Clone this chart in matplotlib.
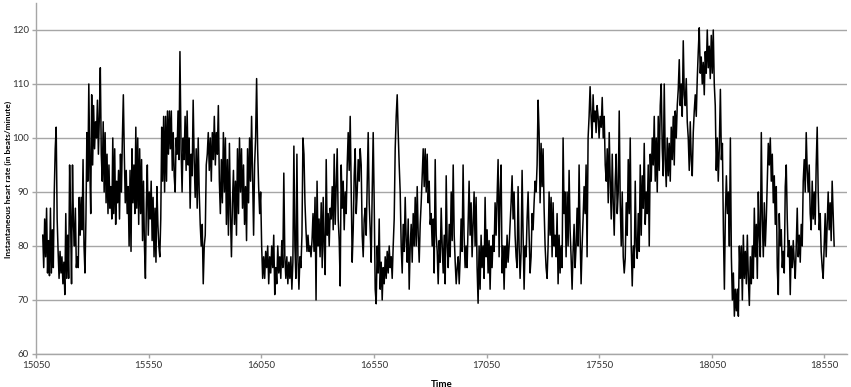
import numpy as np
import matplotlib.pyplot as plt

plt.rcParams['font.family'] = ['Lato', 'DejaVu Sans']

seg1_t = (15080, 15689)
seg1 = [82, 76, 85, 78, 87, 75, 81, 74.5, 87, 75, 83, 76, 90, 98, 102, 85, 79, 74, 79, 75,
        78, 73, 77, 71, 86, 74, 82, 74, 95, 85, 73, 95, 84, 80, 87, 76, 78, 76, 89, 82,
        89, 83, 96, 80, 75, 85, 101, 92, 110, 95, 86, 108, 95, 106, 98, 103, 100, 107, 97, 104,
        113, 97, 92, 103, 90, 101, 88, 97, 86, 95, 87, 91, 85, 100, 86, 98, 84, 92, 88, 94,
        85, 97, 90, 100, 108, 97, 88, 94, 86, 91, 80, 94, 79, 98, 88, 95, 86, 102, 87, 100,
        84, 98, 86, 96, 81, 92, 80, 74, 88, 95, 82, 90, 85, 92, 81, 89, 78, 87, 77, 91,
        84, 80, 78, 85, 102, 92, 104, 90, 104, 92, 105, 97, 105, 98, 105, 94, 101, 93, 90, 100,
        97, 105, 96, 116]

seg2_t = (15694, 16311)
seg2 = [98, 90, 100, 96, 104, 94, 105, 95, 100, 87, 97, 93, 107, 96, 89, 98, 87, 100, 90, 84,
        80, 84, 73, 80, 82, 95, 97, 101, 94, 100, 92, 101, 96, 104, 95, 101, 97, 106, 92, 86,
        96, 88, 101, 90, 100, 84, 96, 82, 99, 86, 78, 88, 94, 84, 92, 82, 98, 86, 100, 90,
        98, 87, 95, 84, 91, 81, 98, 88, 100, 92, 104, 93, 82, 95, 100, 111, 98, 91, 86, 90,
        80, 74, 78, 74, 79, 76, 80, 73, 78, 75, 80, 76, 82, 71, 76, 73, 80, 75, 78, 74,
        81, 76, 93.5, 78, 74, 78, 73, 77, 74, 78, 72, 77, 98.5, 80, 74, 97, 78, 72, 78, 76,
        82, 100, 97, 88, 83, 79, 82, 79, 80, 78, 81, 86, 79, 89, 70, 92, 80, 85, 78]

seg3_t = (16316, 16933)
seg3 = [88, 76, 89, 80, 74.7, 96, 82, 86, 80, 87, 85, 91, 83, 97, 84, 91, 98, 85, 81, 72.6,
        95, 87, 92, 83, 90, 86, 95, 101, 94, 104, 90, 77, 83, 93, 98, 86, 90, 96, 92, 98,
        95, 82, 78, 85, 87, 82, 91, 101, 88, 83, 77, 90, 101, 88, 72, 69.3, 80, 75, 85, 72,
        77, 70, 76, 73, 78, 74, 79, 75, 80, 76, 78, 74, 80, 85, 98, 104, 108, 101, 95, 90,
        80, 75, 84, 79, 89, 81, 77, 85, 72, 80, 84, 77, 86, 80, 89, 80, 91, 82, 77, 84,
        88, 93, 98, 91, 98, 90, 97, 88, 92, 84, 86, 80, 85, 75, 96, 82, 79, 73, 81, 77,
        87, 80, 75, 82, 73, 93, 80, 76, 84, 78, 90, 81, 95, 82, 77, 73, 76, 78, 73, 78]

seg4_t = (16937, 17554)
seg4 = [85, 79, 95, 82, 76, 80, 76, 84, 92, 82, 88, 78, 84, 90, 80, 89, 76, 69.4, 80, 72,
        82, 76, 80, 74, 89, 78, 83, 75, 81, 72, 80, 76, 82, 79, 88, 82, 89, 96, 78, 90,
        95, 75, 80, 72, 80, 76, 82, 77, 80, 84, 88, 93, 85, 90, 82, 78, 76, 91, 80, 74,
        79, 94, 82, 72, 80, 78, 85, 90, 82, 75, 78, 86, 83, 88, 92, 90, 95, 107, 101, 88,
        99, 91, 98, 87, 80, 76, 74, 80, 90, 82, 89, 78, 88, 80, 82, 78, 86, 73, 82, 75,
        80, 76, 100, 86, 90, 78, 90, 80, 94, 83, 78, 72, 79, 84, 76, 80, 87, 80, 95, 82,
        73, 80, 85, 91, 86, 95, 78, 100, 104, 109.5, 104, 100, 108, 103, 105, 101, 106, 104, 100, 104]

seg5_t = (17559, 18083)
seg5 = [102, 107.5, 100, 104, 95, 92, 98, 88, 101, 92, 85, 97, 88, 82, 92, 97, 86, 90, 105, 88,
        80, 90, 78, 75, 77.7, 88, 82, 96, 86, 100, 80, 72.6, 80, 76, 92, 80, 77.7, 86, 79, 95,
        82, 93, 87, 99, 84, 90, 86, 95, 80, 97, 92, 100, 95, 104, 92, 100, 90, 104, 94, 106,
        110, 98, 93, 110, 96, 91, 100, 93, 99, 92, 102, 96, 104, 95, 105, 100, 106, 109, 114.5, 106,
        110, 104, 118, 108, 106, 111, 103, 100, 94, 103, 96, 93, 101, 105, 108, 104, 111, 116, 120.4, 112,
        115, 110, 114, 108, 116, 112, 120, 113, 117, 111, 119, 112, 120, 110, 106, 94, 100, 92, 98]

seg6_t = (18088, 18593)
seg6 = [109, 96, 99, 83, 72, 86, 93, 86, 90, 80, 100, 78, 70, 75, 67, 72, 68, 72, 67, 80,
        74, 80, 70, 82, 74, 79, 73, 82, 74, 69, 78, 73, 80, 74, 87, 78, 84, 74, 90, 82,
        78, 101, 85, 78, 88, 80, 85, 92, 99, 95, 100, 92, 97, 88, 93, 84, 91, 76, 71, 86,
        80, 83, 76, 79, 75, 91, 95, 85, 78, 81, 71, 80, 76, 81, 77, 74, 80, 87, 78, 82,
        77, 84, 80, 92, 96, 90, 101, 94, 90, 95, 86, 83, 92, 85, 90, 84, 95, 102, 90, 83,
        86, 79, 76, 74, 80, 86, 78, 84, 90, 83, 88, 81, 92, 86, 80]

segments = [(seg1_t, seg1), (seg2_t, seg2), (seg3_t, seg3),
            (seg4_t, seg4), (seg5_t, seg5), (seg6_t, seg6)]

# время отсчётов внутри каждого участка
t = np.concatenate([np.linspace(a, b, len(v)) for (a, b), v in segments])
hr = np.concatenate([v for _, v in segments])

x_ticks = np.arange(15050, 18551, 500)
y_ticks = np.arange(60, 121, 10)

fig = plt.figure(figsize=(8.51, 3.87), dpi=100)
ax = fig.add_axes([0.0423, 0.0853, 0.953, 0.907])

ax.plot(t, hr, color='black', linewidth=1.1)

ax.set_xlim(15050, 18650)
ax.set_ylim(60, 125)
ax.set_xticks(x_ticks)
ax.set_yticks(y_ticks)

ax.grid(True, axis='y', color='#a6a6a6', linewidth=1.0)
ax.set_axisbelow(True)
for s in ['top', 'right']:
    ax.spines[s].set_visible(False)
for s in ['left', 'bottom']:
    ax.spines[s].set_color('#a6a6a6')
    ax.spines[s].set_linewidth(1.0)

ax.tick_params(axis='both', colors='#a6a6a6', labelcolor='#333333',
               labelsize=7, length=3, width=1, pad=2)

ax.set_xlabel('Time', fontsize=7, fontweight='bold', labelpad=7)
# подпись оси Y ставим вручную, чтобы не обрезалась
fig.text(8 / 851, 1 - 179 / 387, 'Instantaneous heart rate (in beats/minute)',
         rotation=90, ha='center', va='center', fontsize=6, fontweight='bold')

fig.savefig('out.png', dpi=100)
